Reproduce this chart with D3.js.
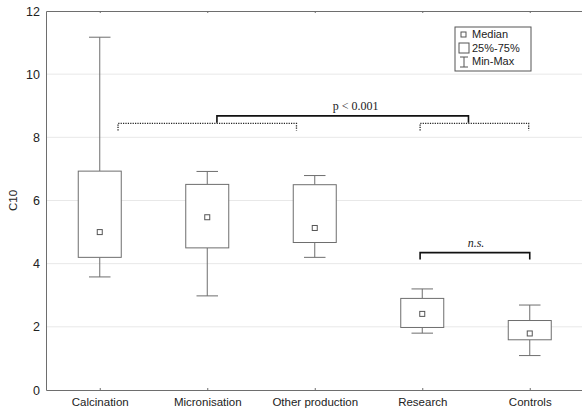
<!DOCTYPE html>
<html>
<head>
<meta charset="utf-8">
<script src="https://cdn.jsdelivr.net/npm/d3@7"></script>
<style>
  body { margin: 0; background: #fff; }
  svg { display: block; font-family: "Liberation Sans", Arial, sans-serif; }
</style>
</head>
<body>
<svg id="chart" width="582" height="416"></svg>
<script>
// values
const categories = ['Calcination', 'Micronisation', 'Other production', 'Research', 'Controls']
const mins    = [3.58, 2.98, 4.20, 1.80, 1.09]
const q1s     = [4.20, 4.50, 4.67, 1.98, 1.59]
const medians = [5.00, 5.47, 5.13, 2.41, 1.79]
const q3s     = [6.93, 6.51, 6.50, 2.90, 2.20]
const maxs    = [11.17, 6.92, 6.79, 3.20, 2.69]
const yTicks  = [0, 2, 4, 6, 8, 10, 12]

// comparison brackets, positions in category index units
const dottedBrackets = [
  { from: 0.17, to: 1.83, y: 8.44 },
  { from: 2.98, to: 3.99, y: 8.44 }
]
const solidBrackets = [
  { from: 1.09, to: 3.43, y: 8.68, label: 'p < 0.001', labelAt: 2.38, italic: false },
  { from: 2.98, to: 4.0, y: 4.35, label: 'n.s.', labelAt: 3.5, italic: true }
]

const margin = { top: 11, right: 0, bottom: 26, left: 46 }
const width = 582, height = 416
const svg = d3.select('#chart')

const x = d3.scaleLinear()
  .domain([-0.5, 4.5])
  .range([margin.left, 583.5])
const y = d3.scaleLinear()
  .domain([0, 12])
  .range([height - margin.bottom, margin.top])

const band = x(1) - x(0)
const boxW = band * 0.4
const capW = band * 0.2
const grey = '#6e6e6e'

// gridlines
svg.append('g')
  .selectAll('line')
  .data(yTicks.slice(1, -1))
  .join('line')
  .attr('x1', margin.left).attr('x2', width)
  .attr('y1', d => y(d)).attr('y2', d => y(d))
  .attr('stroke', '#e8e8e8')
  .attr('stroke-width', 1)

// axes
const yAxis = svg.append('g')
  .attr('transform', `translate(${margin.left},0)`)
  .call(d3.axisLeft(y).tickValues(yTicks).tickSize(0).tickPadding(6))
yAxis.select('.domain').attr('stroke', grey)
yAxis.selectAll('text').attr('font-size', 12.5).attr('fill', '#222')

const xAxis = svg.append('g')
  .attr('transform', `translate(0,${y(0)})`)
  .call(d3.axisBottom(x).tickValues(d3.range(categories.length))
    .tickFormat(i => categories[i]).tickSizeInner(-2).tickSizeOuter(0).tickPadding(8))
xAxis.select('.domain').attr('stroke', grey)
xAxis.selectAll('.tick line').attr('stroke', grey)
xAxis.selectAll('text').attr('font-size', 11.5).attr('fill', '#222')

const topAxis = svg.append('g')
  .attr('transform', `translate(0,${y(12)})`)
  .call(d3.axisTop(x).tickValues(d3.range(categories.length))
    .tickFormat('').tickSizeInner(-2).tickSizeOuter(0))
topAxis.select('.domain').attr('stroke', grey)
topAxis.selectAll('.tick line').attr('stroke', grey)

// boxes
const boxes = svg.append('g')
  .selectAll('g')
  .data(categories.map((c, i) => ({ i, min: mins[i], q1: q1s[i], med: medians[i], q3: q3s[i], max: maxs[i] })))
  .join('g')
  .attr('stroke', grey)
  .attr('fill', 'none')
  .attr('stroke-width', 1)

boxes.append('line')
  .attr('x1', d => x(d.i)).attr('x2', d => x(d.i))
  .attr('y1', d => y(d.max)).attr('y2', d => y(d.q3))
boxes.append('line')
  .attr('x1', d => x(d.i)).attr('x2', d => x(d.i))
  .attr('y1', d => y(d.q1)).attr('y2', d => y(d.min))
boxes.append('line')
  .attr('x1', d => x(d.i) - capW / 2).attr('x2', d => x(d.i) + capW / 2)
  .attr('y1', d => y(d.max)).attr('y2', d => y(d.max))
boxes.append('line')
  .attr('x1', d => x(d.i) - capW / 2).attr('x2', d => x(d.i) + capW / 2)
  .attr('y1', d => y(d.min)).attr('y2', d => y(d.min))
boxes.append('rect')
  .attr('x', d => x(d.i) - boxW / 2)
  .attr('width', boxW)
  .attr('y', d => y(d.q3))
  .attr('height', d => y(d.q1) - y(d.q3))
  .attr('fill', '#fff')
boxes.append('rect')
  .attr('x', d => x(d.i) - 2.5)
  .attr('y', d => y(d.med) - 2.5)
  .attr('width', 5).attr('height', 5)
  .attr('stroke', '#555')

// brackets
svg.append('g')
  .selectAll('path')
  .data(dottedBrackets)
  .join('path')
  .attr('d', d => `M${x(d.from)},${y(d.y) + 7}V${y(d.y)}H${x(d.to)}V${y(d.y) + 7}`)
  .attr('fill', 'none')
  .attr('stroke', '#222')
  .attr('stroke-width', 1.3)
  .attr('stroke-dasharray', '1.2,1.2')

svg.append('g')
  .selectAll('path')
  .data(solidBrackets)
  .join('path')
  .attr('d', d => `M${x(d.from)},${y(d.y) + 7}V${y(d.y)}H${x(d.to)}V${y(d.y) + 7}`)
  .attr('fill', 'none')
  .attr('stroke', '#111')
  .attr('stroke-width', 1.6)

svg.append('g')
  .selectAll('text')
  .data(solidBrackets)
  .join('text')
  .attr('x', d => x(d.labelAt))
  .attr('y', d => y(d.y) - 6)
  .attr('text-anchor', 'middle')
  .attr('font-family', '"Liberation Serif", "Times New Roman", serif')
  .attr('font-size', 12)
  .attr('font-style', d => d.italic ? 'italic' : 'normal')
  .attr('fill', '#222')
  .text(d => d.label)

// y axis title
svg.append('text')
  .attr('transform', `translate(17,${y(6)}) rotate(-90)`)
  .attr('text-anchor', 'middle')
  .attr('font-size', 11.5)
  .attr('fill', '#222')
  .text('C10')

// legend
const legend = svg.append('g').attr('transform', 'translate(455,27)')
legend.append('rect')
  .attr('width', 76).attr('height', 44)
  .attr('fill', '#fff').attr('stroke', '#555')
legend.append('rect')
  .attr('x', 6).attr('y', 5).attr('width', 5).attr('height', 5)
  .attr('fill', 'none').attr('stroke', '#555')
legend.append('rect')
  .attr('x', 4).attr('y', 16).attr('width', 10).attr('height', 10)
  .attr('fill', 'none').attr('stroke', '#555')
legend.append('path')
  .attr('d', 'M5,30H13M9,30V40M5,40H13')
  .attr('fill', 'none').attr('stroke', '#555')
legend.selectAll('text.lbl')
  .data(['Median', '25%-75%', 'Min-Max'])
  .join('text')
  .attr('class', 'lbl')
  .attr('x', 17)
  .attr('y', (d, i) => 11 + i * 13.5)
  .attr('font-size', 11)
  .attr('fill', '#222')
  .text(d => d)
</script>
</body>
</html>
